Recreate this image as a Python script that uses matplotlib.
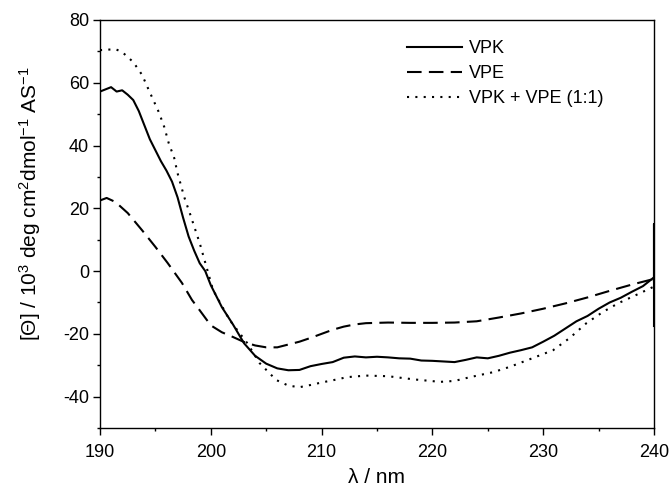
import matplotlib
matplotlib.use("Agg")
import matplotlib.pyplot as plt
from matplotlib.ticker import MultipleLocator

plt.rcParams['font.family'] = ['Liberation Sans', 'DejaVu Sans']
plt.rcParams['mathtext.fontset'] = 'custom'
plt.rcParams['mathtext.rm'] = 'Liberation Sans'
plt.rcParams['mathtext.it'] = 'Liberation Sans:italic'
plt.rcParams['axes.unicode_minus'] = False

# VPK (solid)
vpk_nm = [190, 191, 191.5, 192, 192.5, 193, 193.5, 194, 194.5, 195, 195.5, 196, 196.5, 197,
          197.5, 198, 198.5, 199, 199.5, 200, 200.5, 201, 202, 203, 204, 205,
          206, 207, 208, 209, 210, 211, 212, 213, 214, 215, 216, 217, 218, 219,
          220, 221, 222, 223, 224, 225, 226, 227, 228, 229, 230, 231, 232, 233,
          234, 235, 236, 237, 238, 239, 240, 240, 240]
vpk = [57.2, 58.6, 57.2, 57.6, 56.2, 54.5, 51, 46.5, 42, 38.5, 35, 32, 28.5, 23.5,
       17, 11, 6.5, 2.5, 0, -4.5, -8, -11.5, -17, -23, -27, -29.5,
       -31, -31.6, -31.5, -30.3, -29.6, -29, -27.6, -27.2, -27.5, -27.3, -27.5, -27.8, -27.9, -28.5,
       -28.6, -28.8, -29, -28.3, -27.5, -27.8, -27, -26, -25.2, -24.3, -22.5, -20.6, -18.3, -16,
       -14.3, -12, -10, -8.5, -6.6, -4.8, -2, 15, -17.5]

# VPE (dashed)
vpe_nm = [190, 190.6, 191.4, 192.5, 193.8, 195, 196.1, 197.4, 198.3, 199, 200,
          201, 202, 203, 204, 205, 206, 207, 208, 209, 210, 211, 212, 213, 214,
          216, 218, 220, 222, 224, 226, 228, 230, 232, 234, 236, 238, 240]
vpe = [22.5, 23.3, 22, 18.5, 13, 7.7, 2.6, -3.8, -9.2, -12.5, -17.3,
       -19.5, -21, -22.6, -23.7, -24.3, -24.3, -23.4, -22.5, -21.3, -20, -18.7, -17.7, -17, -16.6,
       -16.4, -16.5, -16.5, -16.4, -16, -14.8, -13.5, -12, -10.3, -8.4, -6.3, -4.3, -2.5]

# VPK + VPE (1:1) (dotted)
mix_nm = [190, 191.4, 192, 193, 193.8, 194.4, 195.3, 195.8, 196.2, 196.7, 197,
          197.6, 198.1, 199, 200.2, 201.7, 203.3, 204.4, 205.9, 207, 208, 209,
          210, 211, 212.3, 214, 216, 218.3, 220.7, 222, 223.4, 225.5, 227, 229,
          230.9, 232.4, 233.9, 235.4, 236.8, 238.4, 239.9, 240]
mix = [70.4, 70.7, 69.8, 66.6, 62.5, 57.7, 50.7, 45.9, 40.8, 36, 31.2,
       23.6, 18.5, 8.9, -6, -15.6, -23, -29.3, -34.7, -36.5, -37, -36.3,
       -35.5, -34.8, -33.8, -33.3, -33.5, -34.5, -35.3, -35, -33.8, -32.2, -30.5, -27.8,
       -25.2, -21.3, -16.6, -13, -10.2, -7.6, -5.1, -2.5]

fig = plt.figure(figsize=(6.7, 4.9), dpi=100)
ax = fig.add_axes([100 / 670, 1 - 428 / 490, 554 / 670, 408 / 490])

ax.plot(vpk_nm, vpk, color='black', lw=1.5, label='VPK')
ax.plot(vpe_nm, vpe, color='black', lw=1.5, linestyle=(0, (7, 3.5)), label='VPE')
ax.plot(mix_nm, mix, color='black', lw=1.5, linestyle=(0, (1, 3)), label='VPK + VPE (1:1)')

ax.set_xlim(190, 240)
ax.set_ylim(-50, 80)
ax.xaxis.set_major_locator(MultipleLocator(10))
ax.xaxis.set_minor_locator(MultipleLocator(5))
ax.yaxis.set_major_locator(MultipleLocator(20))
ax.yaxis.set_minor_locator(MultipleLocator(10))
ax.tick_params(which='major', direction='out', length=5, width=1, labelsize=13, pad=3)
ax.tick_params(axis='x', which='major', pad=6.5)
ax.tick_params(which='minor', direction='out', length=2.5, width=1)
for s in ax.spines.values():
    s.set_linewidth(1.0)

ax.set_xlabel('λ / nm', fontsize=15, labelpad=5)
ax.set_ylabel('[Θ] / 10$^3$ deg cm$^2$dmol$^{-1}$ AS$^{-1}$', fontsize=15)
ax.yaxis.set_label_coords(-0.103, 0.55)

ax.legend(loc='upper left', bbox_to_anchor=(0.555, 0.951), frameon=False,
          fontsize=13, handlelength=3.0, handletextpad=0.4, labelspacing=0.45,
          borderaxespad=0, borderpad=0)

fig.savefig('out.png', dpi=100)
